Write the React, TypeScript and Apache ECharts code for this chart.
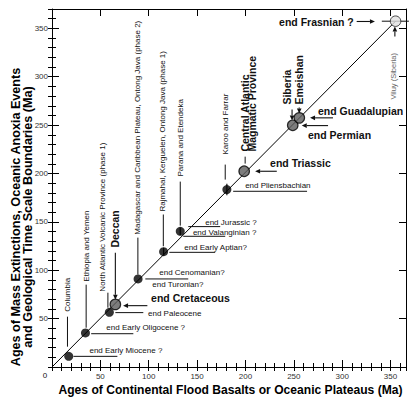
import React, { useEffect, useRef } from 'react';
import * as echarts from 'echarts';

// ---------- data ----------
const provinces = [
  'Columbia',
  'Ethiopia and Yemen',
  'North Atlantic Volcanic Province (phase 1)',
  'Deccan',
  'Madagascar and Caribbean Plateau, Ontong Java (phase 2)',
  'Rajmahal, Kerguelen, Ontong Java (phase 1)',
  'Parana and Etendeka',
  'Karoo and Farrar',
  'Central Atlantic Magmatic Province',
  'Siberia',
  'Emeishan',
  'Viluy (Siberia)',
];
const basaltAges = [17.3, 34.6, 59.3, 65.5, 89.0, 115.4, 132.6, 180.8, 198.7, 248.9, 255.7, 355.2];
const eventAges = [11.0, 35.2, 56.5, 64.7, 91.0, 119.2, 140.2, 183.4, 202.3, 249.8, 257.5, 357.4];
const eventAgeErr = [0, 0, 0, 0, 0, 4, 4, 6, 0, 0, 0, 0];
const pointKind = ['minor', 'minor', 'minor', 'major', 'minor', 'minor', 'minor', 'minor', 'major', 'major', 'major', 'open'];
const tickLabels = ['50', '100', '150', '200', '250', '300', '350'];
const AXIS_MIN = 0;
const X_MAX = 366;
const Y_MAX = 370;

// ---------- annotation layout (data coordinates) ----------
type VLabel = { text: string; at: [number, number]; line?: [number, number, number]; arrow?: boolean; bold?: boolean; gray?: boolean };
type HLabel = { text: string; at: [number, number]; line?: [number, number, number]; arrow?: boolean; bold?: boolean };

const verticalLabels: VLabel[] = [
  { text: 'Columbia', at: [16.0, 57.2], line: [16.0, 52.0, 21.0] },
  { text: 'Ethiopia and Yemen', at: [35.3, 88.2], line: [35.3, 85.1, 40.6] },
  { text: 'North Atlantic Volcanic Province (phase 1)', at: [51.8, 77.9], line: [57.8, 76.8, 61.3] },
  { text: 'Deccan', at: [65.5, 123.4], line: [65.5, 118.2, 69.6], arrow: true, bold: true },
  { text: 'Madagascar and Caribbean Plateau, Ontong Java (phase 2)', at: [88.2, 136.8], line: [88.8, 133.7, 95.5] },
  { text: 'Rajmahal, Kerguelen, Ontong Java (phase 1)', at: [114.0, 160.6], line: [115.1, 157.6, 124.8] },
  { text: 'Parana and Etendeka', at: [132.6, 196.9], line: [132.6, 191.6, 146.1] },
  { text: 'Karoo and Farrar', at: [179.1, 219.6], line: [179.1, 209.2, 193.7] },
  { text: 'Central Atlantic', at: [199.7, 222.6], line: [199.7, 217.4, 210.2], bold: true },
  { text: 'Magmatic Province', at: [206.9, 222.6], bold: true },
  { text: 'Siberia', at: [243.0, 271.2], line: [248.2, 266.1, 254.7], arrow: true, bold: true },
  { text: 'Emeishan', at: [255.4, 271.2], line: [255.6, 268.1, 261.9], arrow: true, bold: true },
  { text: 'Viluy (Siberia)', at: [353.4, 276.4], line: [354.5, 341.6, 351.9], arrow: true, gray: true },
];

const horizontalLabels: HLabel[] = [
  { text: 'end Early Miocene ?', at: [38.7, 17.2], line: [11.0, 22.2, 67.6] },
  { text: 'end Early Oligocene ?', at: [56.2, 41.0], line: [34.4, 40.5, 84.1] },
  { text: 'end Paleocene', at: [99.3, 55.1], line: [56.2, 65.5, 94.4] },
  { text: 'end Cretaceous', at: [102.4, 71.7], line: [63.4, 98.6, 73.5], arrow: true, bold: true },
  { text: 'end Cenomanian?', at: [110.9, 97.8], line: [91.0, 96.5, 140.9] },
  { text: 'end Turonian?', at: [103.7, 85.1] },
  { text: 'end Early Aptian?', at: [136.7, 123.1], line: [118.5, 121.3, 168.7] },
  { text: 'end Jurassic ?', at: [158.4, 148.9], line: [145.1, 140.9, 173.9] },
  { text: 'end Valanginian ?', at: [145.7, 139.2], line: [135.1, 135.7, 179.1] },
  { text: 'end Pliensbachian', at: [199.7, 187.5], line: [181.6, 187.3, 263.7] },
  { text: 'end Triassic', at: [225.5, 211.0], line: [202.3, 232.4, 210.0], arrow: true, bold: true },
  { text: 'end Guadalupian', at: [275.0, 265.0], line: [257.5, 290.5, 266.8], arrow: true, bold: true },
  { text: 'end Permian', at: [264.7, 240.2], line: [249.5, 285.4, 258.2], arrow: true, bold: true },
  { text: 'end Frasnian ?', at: [234.8, 356.8], line: [357.1, 315.0, 333.9], arrow: true, bold: true },
  { text: '', at: [341, 357.4], line: [357.4, 341, 369] },
];

const FONT = 'Liberation Sans, Arial, Helvetica, sans-serif';
const INK = '#111';

function arrowHead(x1: number, y1: number, x2: number, y2: number, len = 5, hw = 2.3) {
  const dx = x2 - x1, dy = y2 - y1;
  const L = Math.hypot(dx, dy) || 1;
  const ux = dx / L, uy = dy / L;
  const bx = x2 - ux * len, by = y2 - uy * len;
  return { base: [bx, by], points: [[x2, y2], [bx - uy * hw, by + ux * hw], [bx + uy * hw, by - ux * hw]] };
}

function lineChildren(p1: number[], p2: number[], arrow?: boolean) {
  const out: any[] = [];
  if (arrow) {
    const h = arrowHead(p1[0], p1[1], p2[0], p2[1]);
    out.push({ type: 'line', shape: { x1: p1[0], y1: p1[1], x2: h.base[0], y2: h.base[1] }, style: { stroke: INK, lineWidth: 1.1 } });
    out.push({ type: 'polygon', shape: { points: h.points }, style: { fill: INK } });
  } else {
    out.push({ type: 'line', shape: { x1: p1[0], y1: p1[1], x2: p2[0], y2: p2[1] }, style: { stroke: INK, lineWidth: 1 } });
  }
  return out;
}

function textStyle(text: string, bold?: boolean, gray?: boolean, align = 'left') {
  return {
    text,
    fill: gray ? '#666' : INK,
    fontFamily: FONT,
    fontSize: bold ? 10.5 : gray ? 7.5 : 8,
    fontWeight: bold ? 'bold' : 'normal',
    align,
    textAlign: align,
    verticalAlign: 'middle',
    textVerticalAlign: 'middle',
  };
}

export default function App() {
  const ref = useRef<HTMLDivElement>(null);

  useEffect(() => {
    if (!ref.current) return;
    const chart = echarts.init(ref.current, undefined, { renderer: 'svg' });

    const pointStyle = (kind: string) => {
      if (kind === 'major') return { color: '#5c5c5c', borderColor: '#000', borderWidth: 1.2 };
      if (kind === 'open') return { color: '#e2e2e2', borderColor: '#222', borderWidth: 1 };
      return { color: '#000', borderColor: '#000', borderWidth: 0 };
    };

    const scatterData = basaltAges.map((x, i) => ({
      name: provinces[i],
      value: [x, eventAges[i]],
      symbolSize: pointKind[i] === 'minor' ? 9 : 10.5,
      itemStyle: pointStyle(pointKind[i]),
    }));

    const labelFmt = (v: number) => (tickLabels.indexOf(String(v)) >= 0 ? String(v) : '');
    const axisCommon = { min: AXIS_MIN, splitLine: { show: false } };
    const lineStyle = { color: '#000', width: 1 };

    const xAxes = [
      { ...axisCommon, type: 'value', position: 'bottom', max: X_MAX, interval: 50,
        axisLine: { show: true, onZero: false, lineStyle }, axisTick: { show: true, inside: true, length: 7, lineStyle },
        axisLabel: { show: true, formatter: labelFmt, fontSize: 8, color: '#333', fontFamily: FONT, margin: 5 } },
      { ...axisCommon, type: 'value', position: 'bottom', max: X_MAX, interval: 10,
        axisLine: { show: false }, axisTick: { show: true, inside: true, length: 4, lineStyle }, axisLabel: { show: false } },
      { ...axisCommon, type: 'value', position: 'top', max: X_MAX, interval: 50,
        axisLine: { show: true, onZero: false, lineStyle }, axisTick: { show: true, inside: true, length: 7, lineStyle }, axisLabel: { show: false } },
      { ...axisCommon, type: 'value', position: 'top', max: X_MAX, interval: 10,
        axisLine: { show: false }, axisTick: { show: true, inside: true, length: 4, lineStyle }, axisLabel: { show: false } },
    ];
    const yAxes = [
      { ...axisCommon, type: 'value', position: 'left', max: Y_MAX, interval: 50,
        axisLine: { show: true, onZero: false, lineStyle }, axisTick: { show: true, inside: true, length: 7, lineStyle },
        axisLabel: { show: true, formatter: labelFmt, fontSize: 8, color: '#333', fontFamily: FONT, margin: 4 } },
      { ...axisCommon, type: 'value', position: 'left', max: Y_MAX, interval: 10,
        axisLine: { show: false }, axisTick: { show: true, inside: true, length: 4, lineStyle }, axisLabel: { show: false } },
      { ...axisCommon, type: 'value', position: 'right', max: Y_MAX, interval: 50,
        axisLine: { show: true, onZero: false, lineStyle }, axisTick: { show: true, inside: true, length: 7, lineStyle }, axisLabel: { show: false } },
      { ...axisCommon, type: 'value', position: 'right', max: Y_MAX, interval: 10,
        axisLine: { show: false }, axisTick: { show: true, inside: true, length: 4, lineStyle }, axisLabel: { show: false } },
    ];

    const option: any = {
      animation: false,
      backgroundColor: '#fff',
      grid: { left: 52, right: 9, top: 9, bottom: 36, containLabel: false },
      xAxis: xAxes,
      yAxis: yAxes,
      graphic: [
        { type: 'text', x: 45, y: 375, style: textStyle('0', false, false, 'center') },
        {
          type: 'text', x: 22, y: 217, rotation: Math.PI / 2,
          style: {
            text: 'Ages of Mass Extinctions, Oceanic Anoxia Events\nand Geological Time Scale Boundaries (Ma)',
            fill: '#000', fontFamily: FONT, fontSize: 12.6, fontWeight: 'bold', lineHeight: 12,
            align: 'center', textAlign: 'center', verticalAlign: 'middle', textVerticalAlign: 'middle',
          },
        },
        {
          type: 'text', x: 230.5, y: 390,
          style: {
            text: 'Ages of Continental Flood Basalts or Oceanic Plateaus (Ma)',
            fill: '#000', fontFamily: FONT, fontSize: 12.1, fontWeight: 'bold',
            align: 'center', textAlign: 'center', verticalAlign: 'middle', textVerticalAlign: 'middle',
          },
        },
      ],
      series: [
        {
          type: 'line',
          xAxisIndex: 0, yAxisIndex: 0,
          data: [[0, 0], [basaltAges[basaltAges.length - 1], eventAges[eventAges.length - 1]]],
          showSymbol: false, symbol: 'none',
          lineStyle: { color: '#000', width: 1 },
          z: 2, silent: true,
        },
        {
          type: 'custom',
          xAxisIndex: 0, yAxisIndex: 0,
          clip: false,
          data: verticalLabels.map((v) => v.at),
          renderItem: (params: any, api: any) => {
            const v = verticalLabels[params.dataIndex];
            const p = api.coord(v.at);
            const children: any[] = [
              { type: 'text', x: p[0], y: p[1], rotation: Math.PI / 2, style: textStyle(v.text, v.bold, v.gray) },
            ];
            if (v.line) {
              const a = api.coord([v.line[0], v.line[1]]);
              const b = api.coord([v.line[0], v.line[2]]);
              children.push(...lineChildren(a, b, v.arrow));
            }
            return { type: 'group', children };
          },
          z: 3, silent: true,
        },
        {
          type: 'custom',
          xAxisIndex: 0, yAxisIndex: 0,
          clip: false,
          data: horizontalLabels.map((h) => h.at),
          renderItem: (params: any, api: any) => {
            const h = horizontalLabels[params.dataIndex];
            const p = api.coord(h.at);
            const children: any[] = [];
            if (h.text) children.push({ type: 'text', x: p[0], y: p[1], style: textStyle(h.text, h.bold) });
            if (h.line) {
              const a = api.coord([h.line[1], h.line[0]]);
              const b = api.coord([h.line[2], h.line[0]]);
              children.push(...lineChildren(a, b, h.arrow));
            }
            return { type: 'group', children };
          },
          z: 3, silent: true,
        },
        {
          type: 'custom',
          xAxisIndex: 0, yAxisIndex: 0,
          data: basaltAges.map((x, i) => [x, eventAges[i], eventAgeErr[i]]),
          renderItem: (params: any, api: any) => {
            const err = api.value(2);
            if (!err) return null;
            const a = api.coord([api.value(0), api.value(1) - err]);
            const b = api.coord([api.value(0), api.value(1) + err]);
            return { type: 'line', shape: { x1: a[0], y1: a[1], x2: b[0], y2: b[1] }, style: { stroke: INK, lineWidth: 1.2 } };
          },
          z: 4, silent: true,
        },
        {
          type: 'scatter',
          xAxisIndex: 0, yAxisIndex: 0,
          data: scatterData,
          symbol: 'circle',
          z: 5, silent: true,
        },
      ],
    };

    chart.setOption(option);
    return () => chart.dispose();
  }, []);

  return <div ref={ref} style={{ position: 'fixed', left: 0, top: 0, width: 415, height: 403 }} />;
}
